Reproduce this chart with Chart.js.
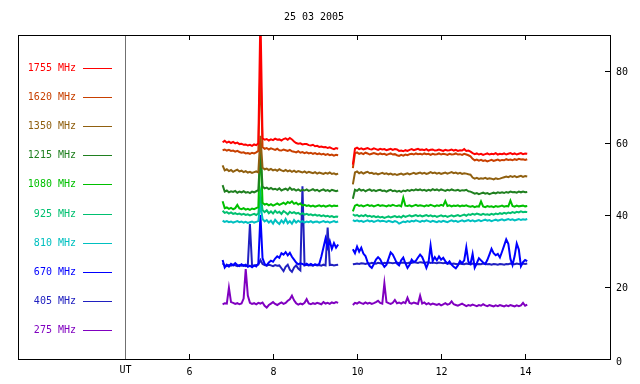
<!DOCTYPE html>
<html>
<head>
<meta charset="utf-8">
<script src="https://cdn.jsdelivr.net/npm/chart.js@4/dist/chart.umd.min.js"></script>
<style>
html,body{margin:0;padding:0;background:#fff;}
canvas{display:block;}
</style>
</head>
<body>
<canvas id="c" width="640" height="384"></canvas>
<script>
const chartTitle = "25 03 2005";
const freqLabels = ["1755 MHz","1620 MHz","1350 MHz","1215 MHz","1080 MHz","925 MHz","810 MHz","670 MHz","405 MHz","275 MHz"];
const freqColors = ["#ff0000","#c84000","#906010","#208020","#00c000","#00c070","#00c0c0","#0000ff","#2020c0","#8000c0"];
const xTicks = [6,8,10,12,14];
const yTicks = [20,40,60,80];
const utLabel = "UT";
const utPos = 4.48;

const timesA = [6.80,6.85,6.90,6.95,7.00,7.05,7.10,7.15,7.20,7.25,
7.30,7.35,7.40,7.45,7.50,7.55,7.60,7.65,7.70,7.75,
7.80,7.85,7.90,7.95,8.00,8.05,8.10,8.15,8.20,8.25,
8.30,8.35,8.40,8.45,8.50,8.55,8.60,8.65,8.70,8.75,
8.80,8.85,8.90,8.95,9.00,9.05,9.10,9.15,9.20,9.25,
9.30,9.35,9.40,9.45,9.50,9.55];
const timesB = [9.90,9.95,10.00,10.05,10.10,10.15,10.20,10.25,10.30,10.35,
10.40,10.45,10.50,10.55,10.60,10.65,10.70,10.75,10.80,10.85,
10.90,10.95,11.00,11.05,11.10,11.15,11.20,11.25,11.30,11.35,
11.40,11.45,11.50,11.55,11.60,11.65,11.70,11.75,11.80,11.85,
11.90,11.95,12.00,12.05,12.10,12.15,12.20,12.25,12.30,12.35,
12.40,12.45,12.50,12.55,12.60,12.65,12.70,12.75,12.80,12.85,
12.90,12.95,13.00,13.05,13.10,13.15,13.20,13.25,13.30,13.35,
13.40,13.45,13.50,13.55,13.60,13.65,13.70,13.75,13.80,13.85,
13.90,13.95,14.00,14.05];

// 1755 MHz
const f1755a = [60.2,60.6,60.1,60.4,60.0,60.3,59.9,60.1,59.7,59.8,
59.5,59.6,59.3,59.5,59.2,59.6,59.4,59.9,96,61.3,
60.9,61.1,60.7,61.0,60.8,61.2,60.9,61.0,60.7,61.1,
61.3,60.9,61.4,61.0,60.4,60.0,59.8,59.9,59.6,59.7,
59.7,59.4,59.3,59.5,59.1,59.2,58.9,59.0,58.8,58.9,
58.6,58.8,58.5,58.3,58.6,58.4];
const f1755b = [54.0,
58.4,58.7,58.3,58.5,58.2,58.4,58.6,58.3,58.2,58.5,
58.3,58.1,58.4,58.2,58.3,58.0,58.2,58.4,58.1,58.3,
58.2,57.8,57.9,57.7,58.0,57.8,58.1,58.3,58.0,58.2,
58.4,58.1,58.2,58.0,58.3,57.9,58.1,58.2,57.9,58.0,
58.2,58.0,57.8,58.1,57.9,58.0,58.2,57.9,58.1,57.8,
58.0,57.9,58.3,57.8,57.9,57.6,57.2,56.9,57.1,56.8,
57.0,56.7,56.9,57.1,56.8,57.0,56.9,57.2,56.8,57.0,
56.9,57.1,56.8,57.0,57.2,56.9,57.1,56.8,57.0,57.2,
56.9,57.1,57.0];
// 1620 MHz
const f1620a = [58.0,58.2,57.9,58.1,57.8,57.9,57.6,57.8,57.5,57.3,
57.4,57.1,57.2,57.0,57.3,57.1,57.4,57.8,82,58.9,
58.4,58.6,58.2,58.5,58.3,58.1,58.4,58.0,57.9,58.2,
58.0,57.8,58.1,57.7,57.6,57.4,57.7,57.3,57.5,57.2,
57.4,57.1,57.3,57.0,57.2,56.9,57.1,56.8,57.0,56.7,
56.9,56.6,56.8,56.5,56.7,56.6];
const f1620b = [53.0,
57.1,57.4,57.0,57.2,56.9,57.3,57.1,56.8,57.0,57.2,
57.0,56.8,57.1,56.9,57.0,56.7,56.9,57.1,56.8,56.9,
56.6,56.4,56.7,56.5,56.8,56.6,56.9,57.0,56.8,57.1,
56.9,57.0,56.8,57.1,56.9,57.0,56.7,57.0,56.8,56.9,
57.1,56.8,57.0,56.9,56.7,57.0,56.8,56.9,57.1,56.8,
56.9,56.7,57.0,56.8,56.6,56.3,55.6,55.2,55.4,55.1,
55.3,55.0,55.2,54.9,55.1,55.3,55.0,55.2,55.4,55.1,
55.3,55.2,55.5,55.3,55.4,55.2,55.5,55.3,55.6,55.4,
55.5,55.3,55.5];
// 1350 MHz
const f1350a = [53.8,52.4,52.7,52.2,52.5,52.0,52.3,52.6,52.1,52.3,
51.9,52.2,51.8,52.0,51.7,51.9,52.1,51.8,62,53.2,
52.7,52.9,52.5,52.8,52.4,52.6,52.3,52.7,52.4,52.2,
52.5,52.1,52.4,52.0,52.3,51.9,52.2,52.0,51.8,52.1,
51.7,52.0,51.8,51.6,51.9,51.5,51.8,51.6,51.4,51.7,
51.5,51.8,51.4,51.6,51.3,51.5];
const f1350b = [48.5,
51.8,52.1,51.6,51.9,51.5,51.8,52.0,51.6,51.7,51.4,
51.6,51.3,51.5,51.7,51.4,51.6,51.3,51.5,51.2,51.4,
51.1,51.3,51.5,51.2,51.4,51.6,51.3,51.5,51.7,51.4,
51.6,51.8,51.5,51.7,51.4,51.6,51.9,51.6,51.8,51.5,
51.7,51.4,51.6,51.8,51.5,51.7,51.9,51.6,51.8,51.5,
51.7,51.4,51.6,51.5,51.3,51.2,50.4,50.1,50.3,50.0,
50.2,50.1,50.3,50.0,50.2,50.1,49.9,50.2,50.0,50.1,
50.3,50.5,50.7,50.5,50.8,50.6,50.8,50.5,50.7,50.9,
50.6,50.8,50.7];
// 1215 MHz
const f1215a = [48.3,46.5,46.8,46.3,46.6,46.4,46.7,46.2,46.5,46.3,
46.6,46.2,46.4,46.1,46.5,46.3,46.6,46.9,58,47.9,
47.4,47.6,47.2,47.5,47.1,47.3,47.0,47.4,46.8,47.1,
47.3,46.9,47.6,47.0,47.2,46.8,47.1,46.7,47.0,46.8,
47.1,46.7,46.9,47.2,46.8,47.0,46.6,46.9,47.1,46.7,
46.9,46.6,47.0,46.8,46.6,46.8];
const f1215b = [44.5,
47.0,46.7,47.2,46.8,47.0,46.6,46.9,47.1,46.7,46.9,
46.6,46.9,47.0,46.7,46.8,46.5,46.8,47.0,46.6,46.8,
46.5,46.7,46.4,46.8,46.6,46.9,46.7,47.0,46.8,47.1,
46.9,47.1,46.8,47.0,46.7,47.0,46.8,47.2,46.9,47.1,
46.8,47.1,46.9,46.7,47.0,46.8,47.1,46.9,46.8,47.0,
46.7,46.9,46.8,47.0,46.6,46.5,46.2,45.9,46.1,45.8,
46.0,46.2,45.9,46.1,45.8,46.0,46.2,46.0,46.3,46.1,
46.3,46.1,46.4,46.2,46.5,46.3,46.4,46.2,46.5,46.3,
46.5,46.3,46.4];
// 1080 MHz
const f1080a = [43.8,41.9,42.1,41.7,42.0,41.6,41.9,42.8,41.8,41.6,
41.9,41.5,41.7,41.4,41.8,41.6,41.9,42.2,60,43.4,
42.9,43.1,42.7,43.0,42.6,42.9,43.2,42.8,43.1,43.4,
43.0,43.6,43.3,43.8,43.1,43.4,42.9,43.2,42.6,42.8,
42.5,42.7,42.4,42.6,42.3,42.5,42.7,42.4,42.6,42.3,
42.5,42.7,42.4,42.6,42.5,42.6];
const f1080b = [41.0,
42.6,42.9,42.5,42.7,42.4,42.6,42.8,42.5,42.7,42.4,
42.6,42.8,42.5,42.7,42.6,42.4,42.7,42.5,42.8,42.6,
42.5,42.7,42.4,44.8,42.6,42.5,42.7,42.4,42.6,42.8,
42.5,42.7,42.6,42.4,42.7,42.5,42.8,42.6,42.4,42.7,
42.5,42.8,42.6,43.9,42.5,42.7,42.4,42.6,42.5,42.7,
42.4,42.6,42.5,42.7,42.4,42.3,42.5,42.2,42.4,42.3,
43.8,42.4,42.2,42.5,42.3,42.4,42.2,42.5,42.3,42.4,
42.6,42.3,42.5,42.4,44.0,42.5,42.3,42.6,42.4,42.5,
42.6,42.4,42.5];
// 925 MHz
const f925a = [41.2,40.6,40.8,40.4,40.7,40.3,40.5,40.2,40.4,40.1,
40.3,40.0,40.2,39.9,40.1,40.3,40.0,40.4,46,41.4,
40.8,41.3,40.5,41.0,40.4,41.2,40.6,40.9,40.3,41.1,
40.7,40.2,40.9,40.5,40.8,40.4,40.6,40.2,40.5,40.1,
40.3,40.0,40.2,39.9,40.1,39.8,40.0,39.7,39.9,39.6,
39.8,39.5,39.7,39.4,39.6,39.5];
const f925b = [40.2,
39.8,40.0,39.6,39.9,39.7,40.0,39.6,39.8,39.5,39.7,
39.4,39.6,39.3,39.5,39.2,39.4,39.6,39.3,39.5,39.7,
39.4,39.6,39.3,39.8,39.5,39.7,39.9,39.6,39.8,40.0,
39.7,39.9,39.6,39.8,40.0,39.7,39.9,39.6,39.8,39.5,
39.7,39.9,39.6,39.8,39.5,39.7,39.9,39.6,39.8,40.0,
39.7,39.9,40.1,39.8,40.2,40.0,40.3,40.1,40.4,40.2,
40.0,40.3,40.1,40.2,40.0,40.3,40.1,40.4,40.2,40.5,
40.3,40.6,40.4,40.7,40.5,40.8,40.6,40.9,40.7,41.0,
40.8,40.9,40.8];
// 810 MHz
const f810a = [38.4,38.1,38.3,38.0,38.2,37.9,38.1,38.3,38.0,38.2,
37.9,38.1,37.8,38.0,38.2,37.9,38.1,38.3,43,38.9,
38.2,38.6,37.9,38.4,37.6,38.7,38.0,37.5,38.5,37.8,
38.9,37.7,38.3,37.6,38.6,37.9,38.4,38.0,38.3,37.9,
38.2,38.0,38.3,37.9,38.1,38.2,37.9,38.1,38.3,38.0,
38.2,37.9,38.1,38.3,38.0,38.2];
const f810b = [38.6,
38.3,38.5,38.2,38.4,38.1,38.3,38.5,38.2,38.4,38.1,
38.3,38.5,38.2,38.4,38.3,38.1,38.4,38.2,38.0,38.3,
38.1,37.6,37.9,38.2,38.0,38.3,38.1,38.4,38.2,38.5,
38.3,38.1,38.4,38.2,38.5,38.3,38.1,38.4,38.2,38.0,
38.3,38.1,38.4,38.2,38.0,38.3,38.5,38.2,38.4,38.1,
38.3,38.5,38.2,38.4,38.6,38.3,38.5,38.2,38.4,38.6,
38.3,38.5,38.7,38.4,38.6,38.3,38.5,38.7,38.4,38.6,
38.8,38.5,38.7,38.9,38.6,38.8,38.5,38.7,38.9,38.6,
38.8,38.7,38.9];
// 670 MHz
const f670a = [27.5,25.4,26.2,25.7,26.4,26.0,26.6,26.1,25.8,26.3,
25.9,26.2,25.6,25.9,25.5,26.0,25.7,26.5,40,28.0,
26.4,26.0,26.8,27.3,27.0,27.9,28.5,28.1,29.4,29.0,
29.7,28.8,29.5,28.4,27.6,26.8,26.3,26.6,26.4,26.1,
26.5,26.1,26.4,26.0,26.3,26.1,26.4,28.5,31.0,33.5,
31.0,32.8,30.6,32.2,30.9,31.8];
const f670b = [30.5,29.4,31.2,29.8,30.9,29.3,28.6,26.9,25.8,25.3,
26.4,27.6,28.3,27.7,26.5,25.6,26.2,27.9,29.6,29.0,
27.8,26.5,26.0,27.4,28.2,26.6,25.3,26.2,27.6,26.9,
27.3,28.2,29.0,28.3,26.9,25.3,26.8,31.5,27.2,28.3,
27.4,28.5,27.6,28.1,27.2,26.5,27.1,26.2,25.6,25.2,
26.0,27.2,26.6,27.4,31.0,27.0,26.4,29.2,25.4,26.6,
28.0,27.4,26.8,26.4,27.5,29.0,30.6,29.4,28.8,29.2,
28.2,29.8,31.5,33.2,32.0,27.8,26.1,28.6,32.1,30.4,
25.8,26.9,27.5,27.2];
// 405 MHz
const f405a = [26.6,26.0,25.8,26.1,25.9,26.2,26.0,25.8,26.1,25.9,
26.0,25.8,26.1,37.5,26.0,25.9,26.1,26.2,27.5,26.4,
26.1,25.9,26.2,26.0,25.8,26.1,25.9,26.0,25.2,24.4,
25.6,26.2,24.8,24.2,25.4,26.0,25.1,24.6,48.0,26.0,
26.2,26.0,26.1,25.9,26.2,26.0,26.1,25.9,26.2,26.0,
36.5,26.1,26.2,26.0,26.1,26.2];
const f405b = [26.3,26.4,26.5,26.4,26.6,26.5,26.4,26.6,26.5,26.7,
26.6,26.5,26.7,26.6,26.5,26.7,26.6,26.8,26.7,26.6,
26.7,26.8,26.6,26.7,26.8,26.7,26.6,26.8,26.7,26.9,
26.8,26.7,26.9,26.8,26.7,26.8,26.9,26.7,26.8,26.7,
26.6,26.8,26.7,26.6,26.7,26.5,26.6,26.4,26.5,26.4,
26.3,26.5,26.4,26.3,26.5,26.4,26.3,26.5,26.4,26.3,
26.4,26.3,26.5,26.4,26.3,26.4,26.2,26.4,26.3,26.2,
26.4,26.3,26.2,26.4,26.3,26.5,26.4,26.3,26.5,26.4,
26.3,26.5,26.4,26.5];
// 275 MHz
const f275a = [15.2,15.5,15.4,19.8,15.8,15.6,15.3,15.5,15.2,15.4,
16.8,25.0,17.6,15.6,15.3,15.5,15.2,15.6,15.4,15.7,
14.8,14.3,15.0,15.4,15.8,15.3,15.0,15.4,15.7,15.3,
15.6,16.2,16.6,17.6,16.3,15.5,15.1,15.4,15.2,15.6,
16.6,15.4,15.2,15.5,15.3,15.6,15.4,15.2,15.8,15.4,
15.6,15.3,15.7,15.5,15.8,15.6];
const f275b = [15.0,15.6,15.4,15.8,15.5,15.3,15.7,15.4,15.6,15.3,
15.5,15.8,16.2,15.6,15.4,21.0,15.8,15.5,15.3,15.6,
16.4,15.5,15.7,15.4,15.8,15.5,17.0,15.6,15.4,15.7,
15.5,15.3,17.6,15.4,15.7,15.2,15.5,15.1,15.4,15.2,
15.0,15.3,14.9,15.2,15.5,15.1,15.3,16.0,15.2,15.0,
14.8,15.1,15.4,15.0,14.7,15.0,14.8,15.1,14.9,14.7,
15.0,14.8,15.2,14.9,14.7,15.0,14.8,14.6,14.9,14.7,
15.0,14.8,14.6,14.9,14.7,15.0,14.8,14.6,14.9,14.7,
14.9,15.6,14.8,15.1];

const seriesA = [f1755a,f1620a,f1350a,f1215a,f1080a,f925a,f810a,f670a,f405a,f275a];
const seriesB = [f1755b,f1620b,f1350b,f1215b,f1080b,f925b,f810b,f670b,f405b,f275b];

function buildData(a, b){
  const pts = timesA.map((t,i)=>({x:t,y:a[i]}));
  pts.push({x:(timesA[timesA.length-1]+timesB[0])/2, y:null});
  timesB.forEach((t,i)=>pts.push({x:t,y:b[i]}));
  return pts;
}

const datasets = freqLabels.map((lab,k)=>({
  label: lab,
  data: buildData(seriesA[k], seriesB[k]),
  borderColor: freqColors[k],
  borderWidth: 2,
  pointRadius: 0,
  tension: 0,
  spanGaps: false,
  fill: false
}));

const FONT = "10px 'DejaVu Sans Mono', monospace";

const decor = {
  id: 'decor',
  afterDraw(chart){
    const ctx = chart.ctx, ca = chart.chartArea;
    const xs = chart.scales.x, ys = chart.scales.y;
    ctx.save();
    ctx.strokeStyle = '#000';
    ctx.lineWidth = 1;
    ctx.strokeRect(Math.round(ca.left)+0.5, Math.round(ca.top)+0.5, Math.round(ca.right-ca.left), Math.round(ca.bottom-ca.top));
    const ux = Math.round(xs.getPixelForValue(utPos))+0.5;
    ctx.strokeStyle = '#707070';
    ctx.beginPath(); ctx.moveTo(ux, ca.top+1); ctx.lineTo(ux, ca.bottom); ctx.stroke();
    ctx.strokeStyle = '#000';
    ctx.fillStyle = '#000';
    ctx.font = FONT;
    ctx.textAlign = 'center';
    ctx.textBaseline = 'middle';
    xTicks.forEach(v=>{
      const px = Math.round(xs.getPixelForValue(v))+0.5;
      ctx.beginPath();
      ctx.moveTo(px, ca.bottom); ctx.lineTo(px, ca.bottom-5);
      ctx.moveTo(px, ca.top); ctx.lineTo(px, ca.top+5);
      ctx.stroke();
      ctx.fillText(String(v), px, ca.bottom+13);
    });
    ctx.fillText(utLabel, ux, ca.bottom+11);
    ctx.textAlign = 'left';
    yTicks.forEach(v=>{
      const py = Math.round(ys.getPixelForValue(v))+0.5;
      ctx.beginPath(); ctx.moveTo(ca.right, py); ctx.lineTo(ca.right-5, py); ctx.stroke();
      ctx.fillText(String(v), ca.right+6, py+1);
    });
    ctx.fillText('0', ca.right+6, ys.getPixelForValue(0)+3);
    ctx.textAlign = 'center';
    ctx.fillText(chartTitle, (ca.left+ca.right)/2, 17);
    freqLabels.forEach((lab,k)=>{
      const y = Math.round(ca.top + 33 + k*29.1)+0.5;
      ctx.fillStyle = freqColors[k];
      ctx.strokeStyle = freqColors[k];
      ctx.textAlign = 'right';
      ctx.fillText(lab, 76, y);
      ctx.beginPath(); ctx.moveTo(83, y); ctx.lineTo(112, y); ctx.stroke();
    });
    ctx.restore();
  }
};

new Chart(document.getElementById('c'), {
  type: 'line',
  data: { datasets },
  options: {
    responsive: false,
    devicePixelRatio: 1,
    animation: false,
    layout: { padding: { left: 18, right: 30, top: 35, bottom: 25 } },
    scales: {
      x: { type: 'linear', min: 1.93, max: 16.02, display: false },
      y: { type: 'linear', min: 0, max: 90, display: false }
    },
    plugins: { legend: { display: false }, tooltip: { enabled: false }, title: { display: false } }
  },
  plugins: [decor]
});
</script>
</body>
</html>
